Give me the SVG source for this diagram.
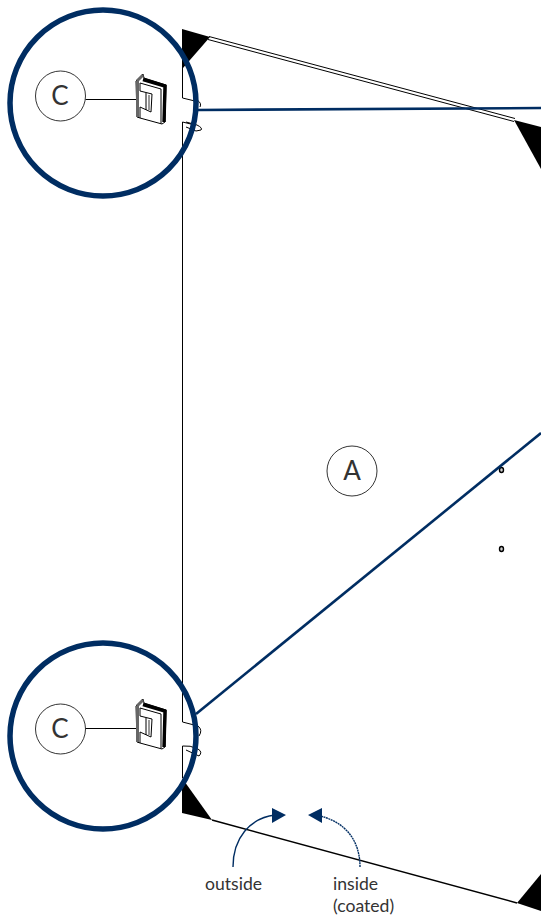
<svg xmlns="http://www.w3.org/2000/svg" width="541" height="924" viewBox="0 0 541 924">
<style>
.t{font-family:"Lato","Open Sans","Liberation Sans",sans-serif;fill:#333;}
.big{font-size:26px;text-anchor:middle;}
.small{font-size:17.600px;}
.ln{fill:none;stroke:#000;stroke-width:1;}
.bl{fill:none;stroke:#002d62;stroke-width:2.600;}
.ring{fill:none;stroke:#002d62;stroke-width:5.500;}
.lbl{fill:#fff;stroke:#000;stroke-width:.8;}
.ar{fill:none;stroke:#002d62;stroke-width:1.400;}
</style>
<defs>
<g id="hinge">
<path d="M136 81 L143 74 L144 78 L166 85 L165 122 L162 124 L140 118 L137 117 Z" fill="#fff" stroke="#000" stroke-width="1"/>
<path d="M143 79.500 L165 86 L164 122" fill="none" stroke="#000" stroke-width="3.400"/>
<path d="M137.500 81 V117 M137 81 L143 75" stroke="#666" stroke-width="3" fill="none"/>
<path d="M140 83 L161 89 L161 123.500 M140 83 V91 L152 94 L151 112 L140 107 M146 93 V110 M140 107 V118" fill="none" stroke="#000" stroke-width="1"/>
<path d="M149 95 V110" fill="none" stroke="#999" stroke-width="2"/>
</g>
</defs>
<g id="glass-panel">
<path class="ln" d="M182.500 30 V98 L197 101.500 M182.500 778 V748 M182.500 722 V122 L195 125"/>
<path class="ln" d="M197 100 Q202 103 200 107 M186 122 L197 125 Q203 128 201 130 L196 131 L186 127"/>
<path class="ln" d="M182.500 722 L198 726 Q203 730 199 736 M182.500 748 V746 Q190 745 198 749 Q203 752 199 756 L186 750"/>
<path class="ln" d="M209 36.500 L515 118.500"/>
<path class="ln" d="M208 39.500 L514 121.500"/>
<path d="M212 820 L517 903" fill="none" stroke="#000" stroke-width="1.500"/>
<ellipse cx="501.500" cy="470" rx="2" ry="2.500" fill="#ccc" stroke="#000" stroke-width="1.400"/>
<ellipse cx="501.500" cy="549" rx="2" ry="2.500" fill="#ccc" stroke="#000" stroke-width="1.400"/>
</g>
<g id="corners">
<path d="M182 29 L210 37 L183 68 Z"/>
<path d="M514 120 L541 127 V169 Z"/>
<path d="M182 778 L212 820 L182 813 Z"/>
<path d="M517 903 L541 874 V911 Z"/>
</g>
<g id="connectors">
<path class="bl" d="M198 110 L541 108"/>
<path class="bl" d="M196 714 L541 433"/>
<path class="ln" d="M85.500 99.500 H155"/>
<path class="ln" d="M85.500 728.500 H155"/>
<path class="ar" d="M233 867 C233 838 250 818 275 815"/>
<path class="ar" stroke-dasharray="2 .6" d="M360 867 C360 840 345 822 320 816"/>
<path d="M272 808 L286 815 L272 823 Z" fill="#002d62"/>
<path d="M322 808 L308 815 L322 823 Z" fill="#002d62"/>
</g>
<g id="detail-c-top">
<use href="#hinge"/>
<circle class="ring" cx="103" cy="103" r="93"/>
<circle class="lbl" cx="60.500" cy="96" r="25"/>
<text class="t big" x="60" y="105">C</text>
</g>
<g id="detail-c-bottom">
<use href="#hinge" y="625"/>
<circle class="ring" cx="103" cy="736" r="93"/>
<circle class="lbl" cx="60.500" cy="729" r="25"/>
<text class="t big" x="60" y="738">C</text>
</g>
<g id="label-a">
<circle class="lbl" cx="352" cy="471" r="25"/>
<text class="t big" x="352" y="480">A</text>
</g>
<g id="labels">
<text class="t small" x="205" y="890">outside</text>
<text class="t small" x="333" y="890">inside</text>
<text class="t small" x="333" y="912">(coated)</text>
</g>
</svg>
